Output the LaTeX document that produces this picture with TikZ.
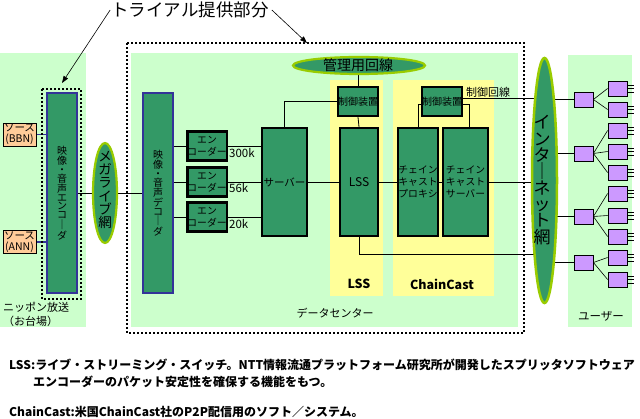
\documentclass[tikz,border=0pt]{standalone}
\usepackage{fontspec}
\setmainfont{Noto Sans CJK JP}
\usetikzlibrary{arrows.meta,shapes.geometric}
\definecolor{lgreen}{HTML}{CCFFCC}
\definecolor{dgreen}{HTML}{339966}
\definecolor{lyellow}{HTML}{FFFF99}
\definecolor{peach}{HTML}{FFCC99}
\definecolor{lpurple}{HTML}{CC99FF}
\definecolor{navyb}{HTML}{333399}
\definecolor{ygreen}{HTML}{99CC00}
\pgfdeclarelayer{back}
\pgfdeclarelayer{bg}
\pgfsetlayers{back,bg,main}
\newcommand\fs[2]{\fontsize{#1}{#2}\selectfont}
\begin{document}
\begin{tikzpicture}[x=1pt,y=-1pt,
  gbox/.style={draw=black,line width=2.2pt,fill=dgreen,inner sep=0pt,align=center},
  nbox/.style={draw=navyb,line width=2.2pt,fill=dgreen,inner sep=0pt,align=center},
  net/.style={ellipse,draw=ygreen,line width=2.2pt,fill=dgreen,inner sep=0pt},
  src/.style={draw=black,line width=0.8pt,fill=peach,inner sep=0pt,minimum width=33pt,minimum height=23pt,align=center,font=\fs{10.5}{11}},
  pbox/.style={draw=black,line width=0.8pt,fill=lpurple,inner sep=0pt,minimum width=19pt,minimum height=15pt},
  conn/.style={line width=0.8pt},
  dotbox/.style={line width=2pt,dash pattern=on 2pt off 2pt},
  lbl/.style={inner sep=0pt,align=center},
]
\useasboundingbox (0,0) rectangle (640,419);
\begin{pgfonlayer}{back}
  \fill[white] (0,0) rectangle (640,419);
  \fill[lgreen] (0,53) rectangle (86,327);
  \fill[lgreen] (131,53) rectangle (518,327);
  \fill[lgreen] (568,55) rectangle (632,327);
  \fill[lyellow] (330,80) rectangle (383,296);
  \fill[lyellow] (393,80) rectangle (494,296);
\end{pgfonlayer}

% trial region
\node[lbl,font=\fs{17.5}{20}] (title) at (190,10) {トライアル提供部分};
\coordinate (arrL) at (62,83);
\coordinate (arrR) at (307,43);
\draw[dotbox] (42,89) rectangle (81,299);
\draw[dotbox] (127,43) rectangle (524,333);
\draw[line width=0.6pt,-{Triangle[length=7pt,width=5pt]}] ([xshift=-1pt]title.west) -- (arrL);
\draw[line width=0.6pt,-{Triangle[length=7pt,width=5pt]}] ([xshift=3pt]title.east) -- (arrR);

% left side
\node[src] (srcB) at (19.5,134.5) {ソース\\(BBN)};
\node[src] (srcA) at (19.5,242) {ソース\\(ANN)};
\node[nbox,minimum width=30pt,minimum height=200pt,font=\fs{10}{8.8}] (enc) at (62,193) {映\\像\\・\\音\\声\\エ\\ン\\コ\\｜\\ダ};
\node[lbl,anchor=west,font=\fs{11}{13}] (nippon) at (3,307) {ニッポン放送};
\node[lbl,anchor=west,font=\fs{11}{13}] (odaiba) at (3,321) {（お台場）};

% mega live network
\node[net,minimum width=24pt,minimum height=100pt] (mega) at (105,193) {};
\node[lbl,font=\fs{13.5}{13.3}] (megat) at (105,190) {メ\\ガ\\ラ\\イ\\ブ\\網};

% data center
\node[nbox,minimum width=30pt,minimum height=200pt,font=\fs{10}{8.9}] (dec) at (158,193) {映\\像\\・\\音\\声\\デ\\コ\\｜\\ダ};
\node[gbox,minimum width=38pt,minimum height=29pt,font=\fs{9.8}{12.5}] (e1) at (207,146) {エン\\コーダー};
\node[gbox,minimum width=38pt,minimum height=29pt,font=\fs{9.8}{12.5}] (e2) at (207,182) {エン\\コーダー};
\node[gbox,minimum width=38pt,minimum height=29pt,font=\fs{9.8}{12.5}] (e3) at (207,217) {エン\\コーダー};
\node[lbl,anchor=west,font=\fs{11.5}{13}] (r1) at (229,153) {300k};
\node[lbl,anchor=west,font=\fs{11.5}{13}] (r2) at (229,188) {56k};
\node[lbl,anchor=west,font=\fs{11.5}{13}] (r3) at (229,224) {20k};
\node[gbox,minimum width=45pt,minimum height=108pt,font=\fs{10.5}{12}] (srv) at (284.5,182) {サーバー};

\node[net,minimum width=132pt,minimum height=17pt] (mgmt) at (359,65.5) {};
\node[lbl,font=\fs{14}{16}] (mgmtt) at (358,65.5) {管理用回線};

\node[gbox,minimum width=40pt,minimum height=29pt,font=\fs{10}{12}] (lctrl) at (358,101.5) {制御装置};
\node[gbox,minimum width=38pt,minimum height=108pt,font=\fs{12}{13}] (lss) at (359,182) {LSS};
\node[gbox,minimum width=40pt,minimum height=29pt,font=\fs{10}{12}] (cctrl) at (442,101.5) {制御装置};
\node[gbox,minimum width=40pt,minimum height=108pt,font=\fs{9.8}{12}] (proxy) at (418,182) {チェイン\\キャスト\\プロキシ};
\node[gbox,minimum width=45pt,minimum height=108pt,font=\fs{9.8}{12}] (csrv) at (465.5,182) {チェイン\\キャスト\\サーバー};
\node[lbl,font=\bfseries\fs{12.5}{14}] (lsslbl) at (359,284) {LSS};
\node[lbl,font=\bfseries\fs{12.5}{14}] (cclbl) at (442,284) {ChainCast};
\node[lbl,font=\fs{11}{13}] (ctrlline) at (488,92) {制御回線};
\node[lbl,font=\fs{11}{13}] (dclbl) at (335,313) {データセンター};

% internet
\node[net,line width=2.5pt,minimum width=25pt,minimum height=245pt] (inet) at (544.5,180.5) {};
\node[lbl,font=\fs{17}{16.3}] (inett) at (542,180) {イ\\ン\\タ\\｜\\ネ\\ッ\\ト\\網};

% users
\node[lbl,font=\fs{11.5}{13}] (userlbl) at (601,316) {ユーザー};
\node[pbox] (h1) at (583.5,99.5) {};
\node[pbox] (h2) at (583.5,153.5) {};
\node[pbox] (h3) at (583.5,216.5) {};
\node[pbox] (h4) at (583.5,262.5) {};
\foreach \i/\y in {1/88.5,2/109.5,3/130.5,4/151.5,5/172.5,6/193.5,7/215.5,8/236.5,9/257.5,10/279.5}{
  \node[pbox] (leaf\i) at (617.5,\y) {};
  \foreach \d in {-3.5,0,3.5}
    \draw[line width=0.7pt] ([yshift=\d pt]leaf\i.east) -- ++(7,0);
}
\foreach \h/\l in {h1/leaf1,h1/leaf2,h2/leaf3,h2/leaf4,h2/leaf5,h3/leaf6,h3/leaf7,h3/leaf8,h4/leaf9,h4/leaf10}
  \draw[line width=0.6pt] (\h.east) -- (\l.west);

\coordinate (lssturn) at (359,254);
\begin{pgfonlayer}{bg}
  \draw[conn,draw=navyb,line width=1.5pt] (srcB.east) -- (srcB.east -| enc.west);
  \draw[conn,draw=navyb,line width=1.5pt] (srcA.east) -- (srcA.east -| enc.west);
  \draw[conn] (enc.east) -- (dec.west);
  \foreach \e in {e1,e2,e3}{
    \draw[conn] (\e.west -| dec.east) -- (\e.west);
    \draw[conn] (\e.east) -- (\e.east -| srv.west);
  }
  \draw[conn] (srv.north) |- (lctrl.west);
  \draw[conn] (lctrl.north) -- (lctrl.north |- mgmt.center);
  \draw[conn] (lctrl.south) -- (lss.north);
  \draw[conn] (srv.east) -- (lss.west);
  \draw[conn] (lss.east) -- (proxy.west);
  \draw[conn] (proxy.east) -- (csrv.west);
  \draw[conn] (csrv.east) -- (csrv.east -| inet.center);
  \draw[conn] (lss.south) -- (lssturn) -- (lssturn -| inet.center);
  \draw[conn] ([yshift=-2.5pt]cctrl.west) -| (proxy.north);
  \draw[conn] ([yshift=-2.5pt]cctrl.east) -| ([xshift=4pt]csrv.north);
  \draw[conn] ([yshift=3.5pt]cctrl.east) -- ([yshift=3.5pt]cctrl.east -| inet.center);
  \foreach \h in {h1,h2,h3,h4}
    \draw[conn] (\h.west) -- (\h.west -| inet.center);
\end{pgfonlayer}

% notes
\node[lbl,anchor=west,font=\bfseries\fs{12}{14}] (note1) at (9,365) {LSS:ライブ・ストリーミング・スイッチ。NTT情報流通プラットフォーム研究所が開発したスプリッタソフトウェア};
\node[lbl,anchor=west,font=\bfseries\fs{12}{14}] (note2) at (33,382) {エンコーダーのパケット安定性を確保する機能をもつ。};
\node[lbl,anchor=west,font=\bfseries\fs{12}{14}] (note3) at (9,412) {ChainCast:米国ChainCast社のP2P配信用のソフト／システム。};
\end{tikzpicture}
\end{document}
